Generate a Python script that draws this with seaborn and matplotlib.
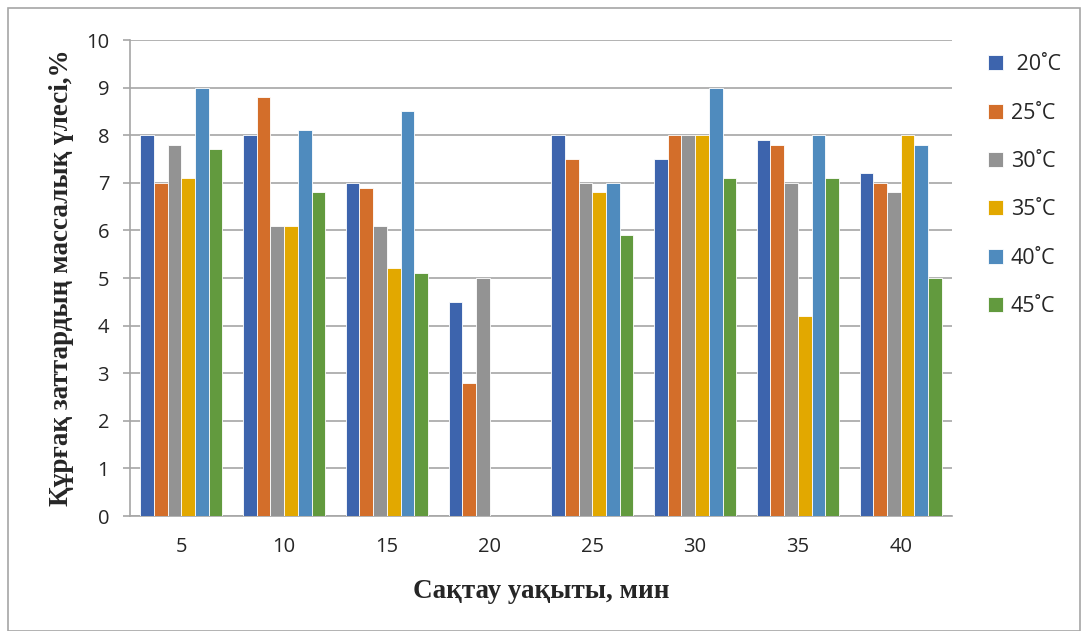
import numpy as np
import pandas as pd
import seaborn as sns
import matplotlib.pyplot as plt
from matplotlib.patches import Rectangle

# Storage time (min) and temperature series
times = ["5", "10", "15", "20", "25", "30", "35", "40"]
temps = [" 20˚C", "25˚C", "30˚C", "35˚C", "40˚C", "45˚C"]

t20 = [8.0, 8.0, 7.0, 4.5, 8.0, 7.5, 7.9, 7.2]
t25 = [7.0, 8.8, 6.9, 2.8, 7.5, 8.0, 7.8, 7.0]
t30 = [7.8, 6.1, 6.1, 5.0, 7.0, 8.0, 7.0, 6.8]
t35 = [7.1, 6.1, 5.2, np.nan, 6.8, 8.0, 4.2, 8.0]
t40 = [9.0, 8.1, 8.5, np.nan, 7.0, 9.0, 8.0, 7.8]
t45 = [7.7, 6.8, 5.1, np.nan, 5.9, 7.1, 7.1, 5.0]

colors = ["#3D64AD", "#D36E2A", "#939393", "#E2A800", "#4F8BBE", "#629A3E"]

series = [t20, t25, t30, t35, t40, t45]
df = pd.DataFrame(
    [(tm, tp, v) for tp, vals in zip(temps, series) for tm, v in zip(times, vals)],
    columns=["time", "temp", "value"],
)

sns.set_style("white")
plt.rcParams["font.family"] = ["Open Sans", "DejaVu Sans"]

fig = plt.figure(figsize=(10.88, 6.31), dpi=100)
ax = fig.add_axes([130 / 1088, 1 - 516 / 631, 822 / 1088, 476 / 631])

sns.barplot(
    data=df, x="time", y="value", hue="temp",
    order=times, hue_order=temps, palette=colors, saturation=1,
    width=0.8, errorbar=None, edgecolor="white", linewidth=0.6,
    ax=ax, zorder=3,
)

ax.set_ylim(0, 10)
ax.set_xlim(-0.5, len(times) - 0.5)
ax.set_yticks(range(0, 11))
ax.yaxis.grid(True, color="#A6A6A6", linewidth=1.2, zorder=0)
ax.set_axisbelow(True)

for side in ["top", "right"]:
    ax.spines[side].set_visible(False)
for side in ["left", "bottom"]:
    ax.spines[side].set_color("#A6A6A6")
    ax.spines[side].set_linewidth(1.2)

# category boundary ticks on the x axis, labels centred under groups
ax.set_xticks(np.arange(-0.5, len(times)), minor=True)
ax.tick_params(axis="x", which="minor", length=5, width=1.2, color="#A6A6A6", direction="out")
ax.tick_params(axis="x", which="major", length=0, labelsize=14.5, pad=15)
ax.tick_params(axis="y", length=5, width=1.2, color="#A6A6A6", direction="out",
               labelsize=14.5, pad=10)
ax.tick_params(left=True, bottom=True)

ax.set_xlabel("Сақтау уақыты, мин", fontfamily="Liberation Serif",
              fontweight="bold", fontsize=19.5, labelpad=16)
ax.set_ylabel("Құрғақ заттардың массалық үлесі,%", fontfamily="Liberation Serif",
              fontweight="bold", fontsize=19.5, labelpad=9)

ax.legend(
    loc="upper left", bbox_to_anchor=(984 / 1088, 1 - 50 / 631),
    bbox_transform=fig.transFigure, frameon=False, title=None,
    fontsize=15.5, handlelength=0.7, handleheight=0.7, handletextpad=0.35,
    labelspacing=1.27, borderaxespad=0, borderpad=0.2,
)

# chart border
fig.patches.append(Rectangle((8 / 1088, 0), 1072 / 1088, 623 / 631,
                             transform=fig.transFigure, fill=False,
                             edgecolor="#A6A6A6", linewidth=1.2))

fig.savefig("out.png", dpi=100)
